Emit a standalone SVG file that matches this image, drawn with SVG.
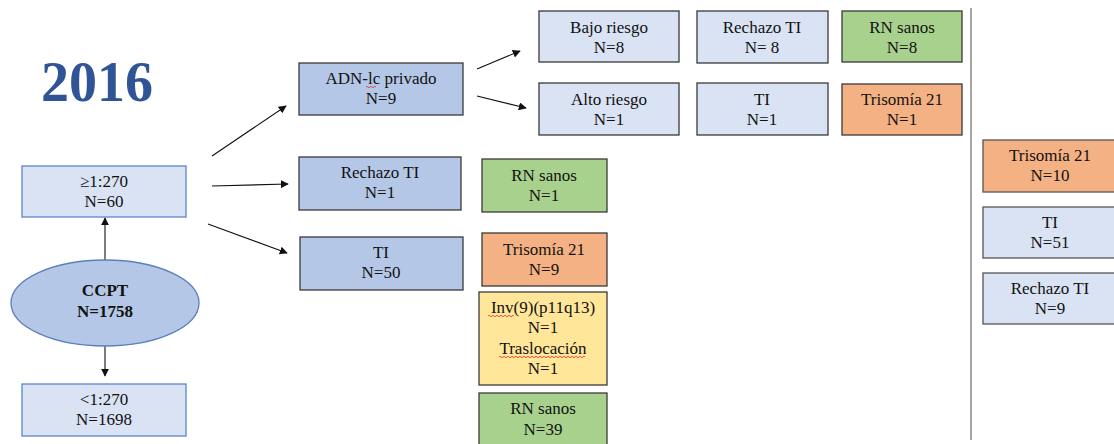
<svg xmlns="http://www.w3.org/2000/svg" width="1114" height="444" viewBox="0 0 1114 444">
  <style>
    .t { font-family: "Liberation Serif", "Times New Roman", serif; font-size: 17px; fill: #111; text-anchor: middle; }
    .b { font-weight: bold; }
    .pale { fill: #dae3f3; stroke: #3a3a3a; stroke-width: 1.3; }
    .paleb { fill: #dae3f3; stroke: #5b86cc; stroke-width: 1.3; }
    .mid { fill: #b4c7e7; stroke: #3a3a3a; stroke-width: 1.3; }
    .green { fill: #a9d18e; stroke: #3a3a3a; stroke-width: 1.3; }
    .orange { fill: #f4b183; stroke: #3a3a3a; stroke-width: 1.3; }
    .yellow { fill: #ffe699; stroke: #3a3a3a; stroke-width: 1.3; }
    .side { fill: #dae3f3; stroke: #555; stroke-width: 1.3; }
    .sideo { fill: #f4b183; stroke: #555; stroke-width: 1.3; }
    .conn { stroke: #111; stroke-width: 1.1; fill: none; marker-end: url(#arrow); }
    .squig { stroke: #e03030; stroke-width: 0.8; fill: none; }
  </style>
  <defs>
    <marker id="arrow" viewBox="0 0 10 10" refX="9" refY="5" markerWidth="8" markerHeight="8" markerUnits="userSpaceOnUse" orient="auto">
      <path d="M0,0 L10,5 L0,10 z" fill="#111"/>
    </marker>
  </defs>

  <rect width="1114" height="444" fill="#ffffff"/>

  <text x="97" y="101" font-family="Liberation Serif, Times New Roman, serif" font-size="56" font-weight="bold" fill="#2f5597" text-anchor="middle">2016</text>

  <!-- divider -->
  <line x1="971" y1="8" x2="971" y2="440" stroke="#8a8a8a" stroke-width="1.5"/>

  <!-- connectors -->
  <g id="connectors">
    <line class="conn" x1="105" y1="260" x2="105" y2="218"/>
    <line class="conn" x1="105" y1="346" x2="105" y2="376"/>
    <line class="conn" x1="212" y1="156" x2="286" y2="106"/>
    <line class="conn" x1="212" y1="186" x2="288" y2="184"/>
    <line class="conn" x1="208" y1="224" x2="287" y2="253"/>
    <line class="conn" x1="477" y1="69" x2="520" y2="51"/>
    <line class="conn" x1="477" y1="96" x2="526" y2="108"/>
  </g>

  <g id="ccpt">
    <ellipse cx="105" cy="303" rx="94" ry="43" fill="#b4c7e7" stroke="#5b7fbf" stroke-width="1.3"/>
    <text class="t b" x="105" y="296">CCPT</text>
    <text class="t b" x="105" y="317">N=1758</text>
  </g>

  <g id="ge270">
    <rect class="paleb" x="22" y="166" width="164" height="51"/>
    <text class="t" x="104" y="187">≥1:270</text>
    <text class="t" x="104" y="207">N=60</text>
  </g>

  <g id="lt270">
    <rect class="paleb" x="22" y="384" width="164" height="52"/>
    <text class="t" x="104" y="405">&lt;1:270</text>
    <text class="t" x="104" y="425">N=1698</text>
  </g>

  <g id="adn">
    <rect class="mid" x="299" y="63" width="164" height="52"/>
    <text class="t" x="381" y="84">ADN-lc privado</text>
    <text class="t" x="381" y="104">N=9</text>
    <path class="squig" d="M366,87 q1,-1.5 2,0 t2,0 t2,0 t2,0 t2,0"/>
  </g>

  <g id="rechazo1">
    <rect class="mid" x="299" y="157" width="162" height="53"/>
    <text class="t" x="380" y="178">Rechazo TI</text>
    <text class="t" x="380" y="198">N=1</text>
  </g>

  <g id="ti50">
    <rect class="mid" x="300" y="237" width="163" height="53"/>
    <text class="t" x="381" y="258">TI</text>
    <text class="t" x="381" y="278">N=50</text>
  </g>

  <g id="bajo">
    <rect class="pale" x="539" y="11" width="140" height="51"/>
    <text class="t" x="609" y="33">Bajo riesgo</text>
    <text class="t" x="609" y="53">N=8</text>
  </g>

  <g id="alto">
    <rect class="pale" x="539" y="83" width="140" height="52"/>
    <text class="t" x="609" y="105">Alto riesgo</text>
    <text class="t" x="609" y="125">N=1</text>
  </g>

  <g id="rechazo8">
    <rect class="pale" x="697" y="11" width="131" height="52"/>
    <text class="t" x="762" y="33">Rechazo TI</text>
    <text class="t" x="762" y="53">N= 8</text>
  </g>

  <g id="ti1">
    <rect class="pale" x="697" y="83" width="131" height="52"/>
    <text class="t" x="762" y="105">TI</text>
    <text class="t" x="762" y="125">N=1</text>
  </g>

  <g id="rnsanos8">
    <rect class="green" x="842" y="11" width="120" height="51"/>
    <text class="t" x="902" y="33">RN sanos</text>
    <text class="t" x="902" y="53">N=8</text>
  </g>

  <g id="tri1">
    <rect class="orange" x="842" y="84" width="120" height="51"/>
    <text class="t" x="902" y="105">Trisomía 21</text>
    <text class="t" x="902" y="125">N=1</text>
  </g>

  <g id="rnsanos1">
    <rect class="green" x="482" y="159" width="125" height="53"/>
    <text class="t" x="544" y="181">RN sanos</text>
    <text class="t" x="544" y="201">N=1</text>
  </g>

  <g id="tri9">
    <rect class="orange" x="482" y="233" width="125" height="53"/>
    <text class="t" x="544" y="255">Trisomía 21</text>
    <text class="t" x="544" y="275">N=9</text>
  </g>

  <g id="inv">
    <rect class="yellow" x="479" y="292" width="128" height="93"/>
    <text class="t" x="543" y="313">Inv(9)(p11q13)</text>
    <text class="t" x="543" y="333">N=1</text>
    <text class="t" x="543" y="354">Traslocación</text>
    <text class="t" x="543" y="374">N=1</text>
    <path class="squig" d="M488,316 q1,-1.5 2,0 t2,0 t2,0 t2,0 t2,0 t2,0 t2,0 t2,0 t2,0 t2,0 t2,0 t2,0 t2,0"/>
    <path class="squig" d="M499,357 q1,-1.5 2,0 t2,0 t2,0 t2,0 t2,0 t2,0 t2,0 t2,0 t2,0 t2,0 t2,0 t2,0 t2,0 t2,0 t2,0 t2,0 t2,0 t2,0 t2,0 t2,0 t2,0 t2,0 t2,0 t2,0 t2,0 t2,0 t2,0 t2,0 t2,0 t2,0 t2,0 t2,0 t2,0 t2,0 t2,0 t2,0 t2,0 t2,0 t2,0 t2,0 t2,0 t2,0 t2,0"/>
  </g>

  <g id="rnsanos39">
    <rect class="green" x="479" y="393" width="128" height="53"/>
    <text class="t" x="543" y="414">RN sanos</text>
    <text class="t" x="543" y="435">N=39</text>
  </g>

  <g id="tri10">
    <rect class="sideo" x="983" y="140" width="134" height="52"/>
    <text class="t" x="1050" y="161">Trisomía 21</text>
    <text class="t" x="1050" y="181">N=10</text>
  </g>

  <g id="ti51">
    <rect class="side" x="983" y="207" width="134" height="51"/>
    <text class="t" x="1050" y="228">TI</text>
    <text class="t" x="1050" y="248">N=51</text>
  </g>

  <g id="rechazo9">
    <rect class="side" x="983" y="273" width="134" height="51"/>
    <text class="t" x="1050" y="294">Rechazo TI</text>
    <text class="t" x="1050" y="314">N=9</text>
  </g>
</svg>
